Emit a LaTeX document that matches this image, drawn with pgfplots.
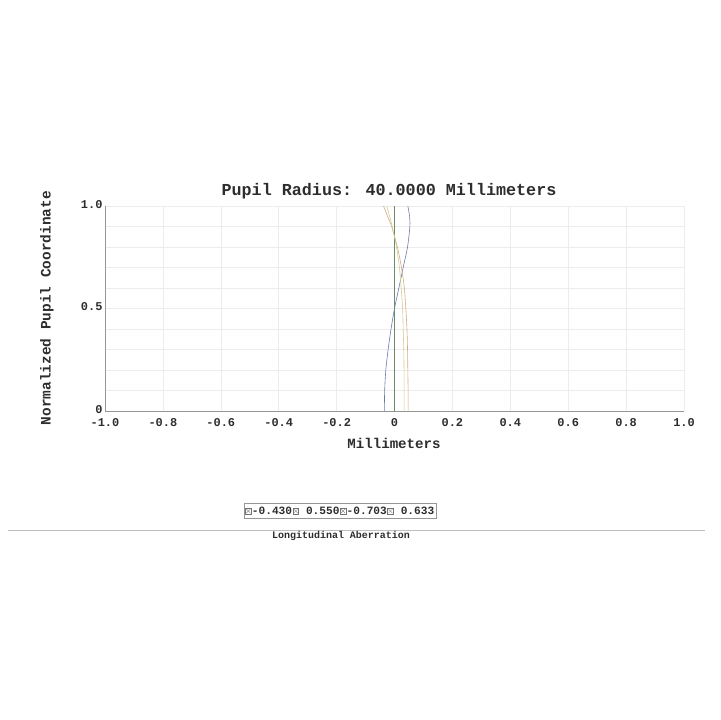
\documentclass[border=0pt]{standalone}
\usepackage{pgfplots}
\pgfplotsset{compat=1.18}
\usepackage{fontspec}
\setmainfont{Liberation Mono}
\definecolor{wlA}{RGB}{110,118,175}
\definecolor{wlB}{RGB}{105,140,105}
\definecolor{wlC}{RGB}{212,170,132}
\definecolor{wlD}{RGB}{208,206,145}
\definecolor{gridc}{RGB}{236,236,236}
\definecolor{axc}{RGB}{150,150,150}
\definecolor{txt}{RGB}{45,45,45}
\begin{document}
\begin{tikzpicture}[x=1bp,y=1bp]
\useasboundingbox (0,0) rectangle (720,720);
\begin{axis}[
    at={(105bp,309bp)}, anchor=south west,
    scale only axis, width=579bp, height=205bp,
    xmin=-1, xmax=1, ymin=0, ymax=1,
    axis lines*=left,
    axis line style={axc, line width=0.8pt},
    xtick={-1,-0.8,...,1.01},
    xticklabels={-1.0,-0.8,-0.6,-0.4,-0.2,0,0.2,0.4,0.6,0.8,1.0},
    ytick={0,0.5,1},
    yticklabels={0,0.5,1.0},
    minor ytick={0.1,0.2,0.3,0.4,0.6,0.7,0.8,0.9},
    xmajorgrids, ymajorgrids, yminorgrids,
    grid style={gridc, line width=0.6pt},
    minor grid style={gridc, line width=0.6pt},
    major tick length=0pt, minor tick length=0pt,
    tick label style={font=\fontsize{12}{12}\selectfont\bfseries, text=txt},
    xticklabel style={yshift=-3.5bp},
    yticklabel style={xshift=1bp, yshift=1.5bp},
    legend columns=4,
    legend style={at={(axis description cs:0.406,-0.488)}, anchor=center,
        draw=axc, line width=0.4pt, inner sep=1bp,
        font=\fontsize{11.2}{12}\selectfont\bfseries, text=txt,
        /tikz/every even column/.style={column sep=0pt},
        /tikz/every odd column/.style={column sep=0pt},
        nodes={inner xsep=0.6bp}},
    legend cell align=left,
    legend image code/.code={
        \draw[black!55, line width=0.4pt, fill=white] (0bp,-2.8bp) rectangle (5.6bp,2.8bp);
        \draw[black!55, line width=0.3pt] (0.8bp,-2bp) -- (4.8bp,2bp) (0.8bp,2bp) -- (4.8bp,-2bp);
    },
    clip=false,
]
\addplot[wlA, line width=0.6pt, smooth] coordinates {
 (-0.035,0) (-0.034,0.1) (-0.030,0.2) (-0.022,0.3) (-0.012,0.4) (0.000,0.5)
 (0.015,0.6) (0.030,0.7) (0.045,0.8) (0.053,0.9) (0.052,0.95) (0.046,1.0)};
\addlegendentry{-0.430}
\addplot[wlB, line width=0.7pt] coordinates {(0,0) (0,1)};
\addlegendentry{\hphantom{-}0.550}
\addplot[wlC, line width=0.6pt, smooth] coordinates {
 (0.047,0) (0.047,0.1) (0.046,0.2) (0.045,0.3) (0.043,0.4) (0.039,0.5)
 (0.034,0.6) (0.024,0.7) (0.010,0.8) (-0.010,0.9) (-0.024,0.95) (-0.038,1.0)};
\addlegendentry{-0.703}
\addplot[wlD, line width=0.6pt, smooth] coordinates {
 (0.033,0) (0.033,0.1) (0.033,0.2) (0.032,0.3) (0.030,0.4) (0.028,0.5)
 (0.023,0.6) (0.017,0.7) (0.007,0.8) (-0.008,0.9) (-0.017,0.95) (-0.027,1.0)};
\addlegendentry{\hphantom{-}0.633}
\end{axis}
\node[font=\fontsize{16.8}{17}\selectfont\bfseries, text=txt] at (389,720-191) {Pupil Radius: 40.0000 Millimeters};
\node[font=\fontsize{14.2}{15}\selectfont\bfseries, text=txt] at (394,720-443) {Millimeters};
\node[font=\fontsize{14.5}{15}\selectfont\bfseries, text=txt, rotate=90] at (47,720-308) {Normalized Pupil Coordinate};
\draw[black!25, line width=0.8pt] (8,720-530) -- (705,720-530);
\node[font=\fontsize{10}{10}\selectfont\bfseries, text=txt] at (341,720-536) {Longitudinal Aberration};
\end{tikzpicture}
\end{document}
